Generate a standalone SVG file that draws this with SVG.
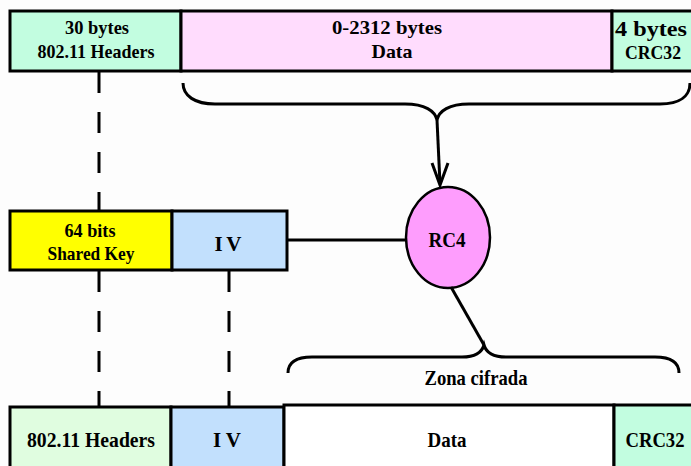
<svg xmlns="http://www.w3.org/2000/svg" width="691" height="466" viewBox="0 0 691 466">
  <style>
    .box { stroke: #000; stroke-width: 3; }
    .lbl { font-family: "Liberation Serif", "Times New Roman", serif; font-weight: bold; font-size: 19px; fill: #000; text-anchor: middle; }
    .big { font-size: 21px; }
    .ln { fill: none; stroke: #000; stroke-width: 3; }
    .dash { fill: none; stroke: #000; stroke-width: 3; stroke-dasharray: 21 19; }
  </style>
  <rect x="0" y="0" width="691" height="466" fill="#fdfdfd"/>

  <!-- Incoming frame -->
  <g id="frame-header">
    <rect class="box" x="10" y="11" width="171" height="60" fill="#c2fde0"/>
    <text class="lbl" x="97" y="34" textLength="64" lengthAdjust="spacingAndGlyphs">30 bytes</text>
    <text class="lbl" x="96" y="58" textLength="117" lengthAdjust="spacingAndGlyphs">802.11 Headers</text>
  </g>
  <g id="frame-data">
    <rect class="box" x="181" y="11" width="431" height="60" fill="#ffdcfd"/>
    <text class="lbl" x="387" y="34" textLength="110" lengthAdjust="spacingAndGlyphs">0-2312 bytes</text>
    <text class="lbl" x="392" y="58" textLength="41" lengthAdjust="spacingAndGlyphs">Data</text>
  </g>
  <g id="frame-crc">
    <rect class="box" x="612" y="11" width="90" height="60" fill="#c2fde0"/>
    <text class="lbl big" x="651" y="36" textLength="72" lengthAdjust="spacingAndGlyphs">4 bytes</text>
    <text class="lbl" x="653" y="59" textLength="56" lengthAdjust="spacingAndGlyphs">CRC32</text>
  </g>

  <!-- Key material -->
  <g id="shared-key">
    <rect class="box" x="10" y="211" width="162" height="59" fill="#ffff00"/>
    <text class="lbl" x="90" y="237" textLength="51" lengthAdjust="spacingAndGlyphs">64 bits</text>
    <text class="lbl" x="91" y="260" textLength="87" lengthAdjust="spacingAndGlyphs">Shared Key</text>
  </g>
  <g id="iv">
    <rect class="box" x="172" y="211" width="115" height="59" fill="#c2e0fd"/>
    <text class="lbl big" x="228" y="251" textLength="27" lengthAdjust="spacing">IV</text>
  </g>

  <!-- Cipher -->
  <g id="rc4">
    <ellipse cx="448" cy="237.5" rx="42" ry="50.5" fill="#fe9dfd" stroke="#000" stroke-width="2.5"/>
    <text class="lbl big" x="447" y="247" textLength="37" lengthAdjust="spacingAndGlyphs">RC4</text>
  </g>

  <!-- Encrypted frame -->
  <g id="out-header">
    <rect class="box" x="10" y="407" width="161" height="70" fill="#e0fde0"/>
    <text class="lbl big" x="91" y="447" textLength="128" lengthAdjust="spacingAndGlyphs">802.11 Headers</text>
  </g>
  <g id="out-iv">
    <rect class="box" x="171" y="407" width="113" height="70" fill="#c2e0fd"/>
    <text class="lbl big" x="227" y="447" textLength="28" lengthAdjust="spacing">IV</text>
  </g>
  <g id="out-data">
    <rect class="box" x="284" y="405" width="330" height="72" fill="#ffffff"/>
    <text class="lbl big" x="447" y="447" textLength="39" lengthAdjust="spacingAndGlyphs">Data</text>
  </g>
  <g id="out-crc">
    <rect class="box" x="614" y="405" width="90" height="72" fill="#c2fde0"/>
    <text class="lbl big" x="655" y="447" textLength="59" lengthAdjust="spacingAndGlyphs">CRC32</text>
  </g>

  <text id="zona-label" class="lbl big" x="476" y="385" textLength="103" lengthAdjust="spacingAndGlyphs">Zona cifrada</text>

  <!-- Connectors -->
  <g id="connectors">
    <line class="dash" x1="99" y1="72" x2="99" y2="211"/>
    <line class="dash" x1="99" y1="271" x2="99" y2="407"/>
    <line class="dash" x1="229" y1="271" x2="229" y2="406"/>
    <path class="ln" d="M183,83 C183,96 195,104 215,104 L405,104 C425,104 435,111 437,120 C439,111 449,104 469,104 L660,104 C680,104 690,96 690,83"/>
    <path class="ln" d="M437,120 L440,184"/>
    <path class="ln" d="M432,163 L440,185 L448,163"/>
    <path class="ln" d="M288,240 L406,240"/>
    <path class="ln" d="M451,287 L484,345"/>
    <path class="ln" d="M288,373 C288,362 296,357 312,357 L462,357 C476,357 482,352 484,345 C486,352 492,357 506,357 L655,357 C671,357 679,362 679,373"/>
  </g>
</svg>
